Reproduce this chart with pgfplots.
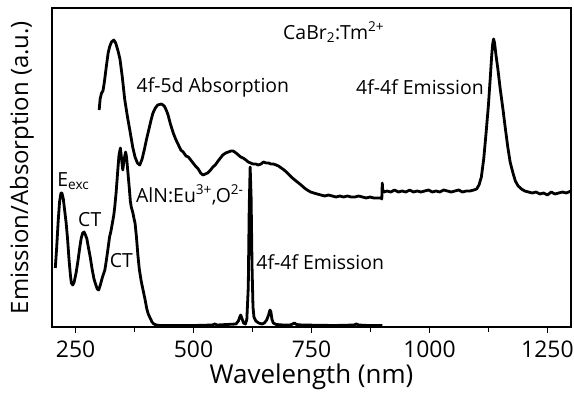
\documentclass[border=0pt]{standalone}
\usepackage{fontspec}
\setmainfont{Open Sans}
\usepackage{pgfplots}
\pgfplotsset{compat=1.18}
\pgfplotstableread{
x y
300 217
302 228
305 234
308 236
311 245
315 260
319 274
322 280
326 285
331 287
335 284
340 276
344 268
349 250
354 228
360 210
366 194
371 180
376 170
381 164
386 162
391 168
396 178
400 187
405 197
410 207
414 214
419 219
424 222
432 223
438 221
443 216
446 212
451 203
457 194
462 188
468 182
473 177
478 175
484 171
489 170
494 167
499 164
504 161
510 158
515 154
520 152
525 153
530 154
536 157
541 160
546 162
552 166
557 169
562 172
568 174
574 175
579 176
584 176
590 174
595 172
600 170
605 169
611 167
616 165
621 164
626 163
632 163
637 162
643 163
648 165
654 164
659 164
664 163
669 163
675 162
680 161
686 159
692 157
699 154
705 151
712 148
720 145
728 142
735 139
741 137
748 135
755 134
762 133
770 132
778 131
786 132
794 131
802 130
810 131
818 130
826 131
834 130
842 130
850 131
858 130
866 129
874 130
882 129
890 129
897 129
899 128
900 144
901 137
904 135
910 136
918 135
926 137
934 135
942 136
950 135
958 137
966 135
974 136
982 135
990 136
998 137
1006 135
1014 136
1022 135
1030 137
1038 136
1046 135
1054 136
1062 137
1070 135
1078 136
1086 136
1094 137
1100 138
1105 142
1110 150
1115 168
1120 194
1125 222
1129 250
1132 272
1134 283
1136 288
1138 284
1141 272
1145 258
1150 238
1156 217
1161 198
1166 180
1171 165
1177 154
1182 146
1188 141
1195 138
1202 136
1210 135
1218 134
1226 135
1234 133
1242 134
1250 132
1258 135
1266 133
1274 134
1282 135
1290 134
1300 136
}\cabr
\pgfplotstableread{
x y
207 59
210 80
213 105
216 125
219 134
221 134
224 128
227 116
230 104
233 88
236 68
239 52
241 44
244 42
247 45
251 54
255 66
259 80
262 89
265 94
268 95
271 92
274 88
277 80
281 70
285 58
289 48
293 42
296 38
299 37
303 43
307 50
312 57
315 66
318 76
322 90
325 96
328 104
331 112
333 120
336 135
339 154
342 172
345 179
347 170
350 157
353 168
356 175
358 170
361 154
364 138
366 126
368 120
371 115
374 108
376 104
379 90
382 72
385 58
389 46
393 37
397 28
401 18
404 13
407 10
412 5
416 3
421 2
430 1.5
450 1.5
500 1.5
540 2
545 3
550 2
590 3
595 6
598 10
600 12
603 8
606 4
610 3
613 8
616 40
618 120
620 160
622 130
624 60
626 20
628 10
632 6
638 4
645 3
650 4
655 7
659 12
662 17
664 15
666 8
669 4
675 2.5
690 2
705 2
710 3
714 4
718 2.5
730 2
800 1.5
840 2
845 3
850 2
870 1.5
900 1.5
}\aln
\begin{document}
\begin{tikzpicture}
\useasboundingbox (-52bp,-68bp) rectangle (522bp,327bp);
\begin{axis}[
  at={(0,0)}, anchor=south west,
  scale only axis, width=519bp, height=319bp,
  xmin=200, xmax=1300, ymin=0, ymax=319,
  xtick={250,500,750,1000,1250},
  minor xtick={375,625,875,1125},
  ytick=\empty,
  xtick pos=bottom,
  tick align=outside,
  major tick length=6bp, minor tick length=5bp,
  every tick/.style={black, line width=1.2bp},
  axis line style={line width=1.3bp},
  /pgf/number format/assume math mode=true,
  /pgf/number format/1000 sep={},
  xticklabel style={font=\fontsize{23}{27}\selectfont, inner sep=1bp, yshift=-7bp},
  xlabel={Wavelength (nm)},
  ylabel={Emission/Absorption (a.u.)},
  xlabel style={font=\fontsize{26}{30}\selectfont, at={(axis description cs:0.5,0)}, anchor=center, yshift=-50bp},
  ylabel style={font=\fontsize{24}{28}\selectfont, at={(axis description cs:-0.058,0.5)}, anchor=center},
  clip=false,
]
\addplot[black, line width=2.8bp, line join=round] table[x=x,y=y] {\cabr};
\addplot[black, line width=2.8bp, line join=round] table[x=x,y=y] {\aln};
\begin{scope}[every node/.style={font=\fontsize{19.5}{23}\selectfont, inner sep=0pt}]
\node at (axis cs:797,295) {CaBr\textsubscript{2}:Tm\textsuperscript{2+}};
\node at (axis cs:541,240) {4f-5d Absorption};
\node at (axis cs:980,240) {4f-4f Emission};
\node[anchor=west] at (axis cs:211,146) {E\textsubscript{exc}};
\node at (axis cs:280,107) {CT};
\node[anchor=west] at (axis cs:322,66) {CT};
\node[anchor=west] at (axis cs:378,132) {AlN:Eu\textsuperscript{3+},O\textsuperscript{2-}};
\node[anchor=west] at (axis cs:633,65) {4f-4f Emission};
\end{scope}
\end{axis}
\end{tikzpicture}
\end{document}
